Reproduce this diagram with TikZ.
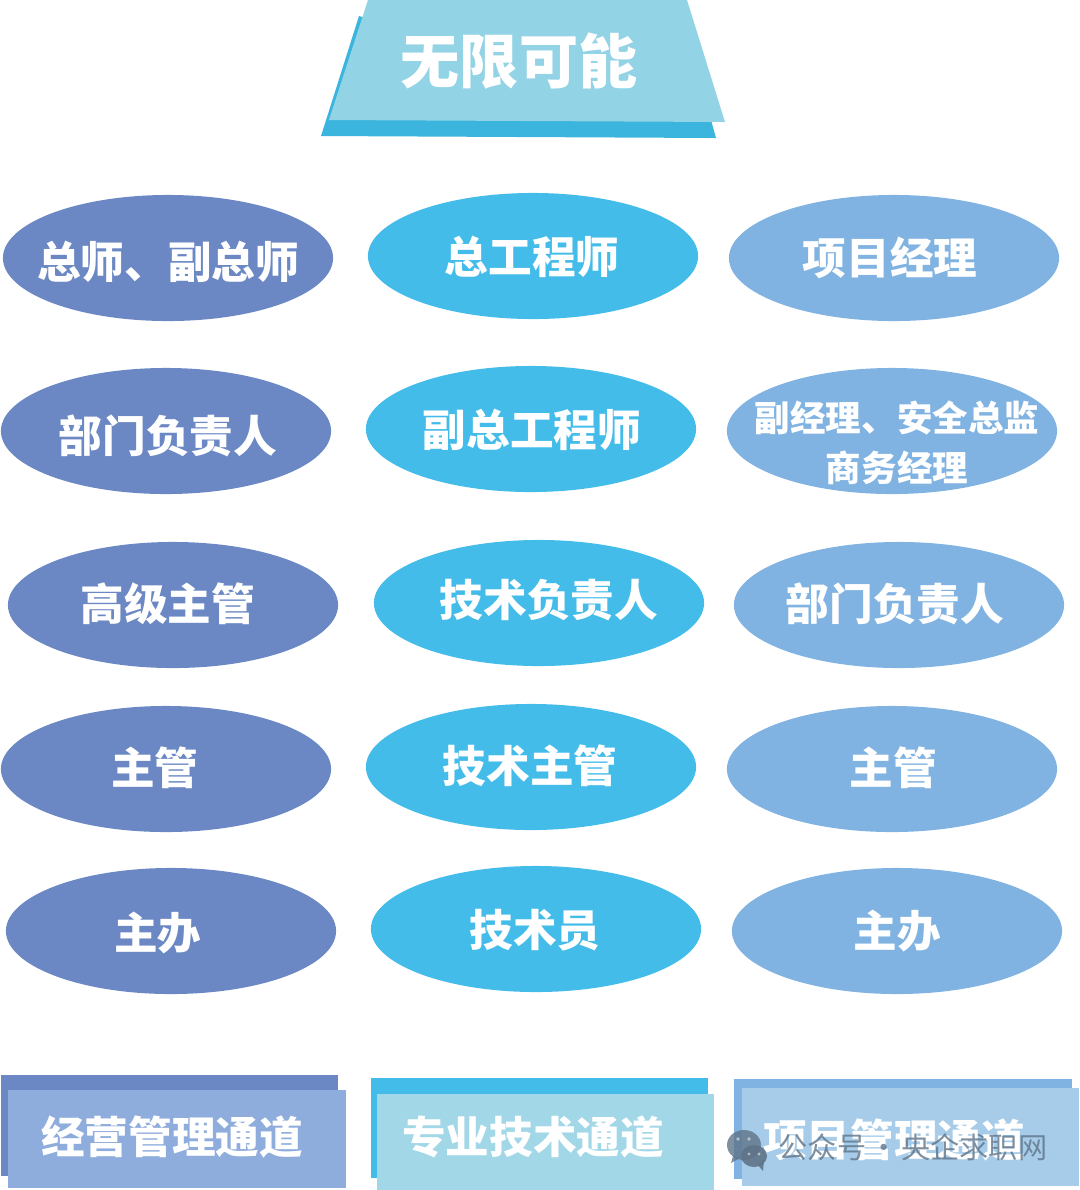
\documentclass[tikz,border=0pt]{standalone}
\usepackage{fontspec}
\usepackage{xcolor}
\usepackage{tikz}
\usetikzlibrary{positioning,shapes.geometric}
\newfontfamily\cjk{Noto Sans CJK SC}[BoldFont={Noto Sans CJK SC Black}]

\definecolor{glblue}{HTML}{6B88C4}
\definecolor{zycyan}{HTML}{43BCEA}
\definecolor{xmsky}{HTML}{80B3E2}
\definecolor{glfront}{HTML}{8FADDC}
\definecolor{zyfront}{HTML}{A2D7E8}
\definecolor{xmfront}{HTML}{A6CCEA}
\definecolor{titlefront}{HTML}{92D3E5}
\definecolor{titleback}{HTML}{3BB5DD}
\definecolor{markgray}{HTML}{5F7488}

\tikzset{
    oval/.style={ellipse, minimum width=3.3cm, minimum height=1.26cm, inner sep=0pt},
    word/.style={text=white, inner sep=0pt, font=\cjk\bfseries\fontsize{12.4}{14.2}\selectfont},
    smallword/.style={word, align=center, font=\cjk\bfseries\fontsize{10.1}{14.2}\selectfont},
    titleword/.style={word, font=\cjk\bfseries\fontsize{16.8}{19}\selectfont},
    markword/.style={text=markgray, text opacity=0.8, inner sep=0pt, font=\cjk\fontsize{8.3}{10}\selectfont},
}

\begin{document}
\begin{tikzpicture}[x=0.01cm, y=-0.01cm]
    \useasboundingbox (0,0) rectangle (1080,1190);

    % Title banner
    \fill[titleback] (359,16) -- (321,136) -- (716,138) -- (711,120) -- cycle;
    \fill[titlefront] (368,0) -- (687,0) -- (725,122) -- (329,120) -- cycle;
    \node[titleword] (title) at (519,61) {无限可能};

    % Management column
    \node[oval, fill=glblue] (gl1) at (168,258) {};
    \node[oval, fill=glblue] (gl2) at (166,431) {};
    \node[oval, fill=glblue] (gl3) at (173,605) {};
    \node[oval, fill=glblue] (gl4) at (166,769) {};
    \node[oval, fill=glblue] (gl5) at (171,931) {};
    \node[word] (gl1text) at (168,262) {总师、副总师};
    \node[word] (gl2text) at (168,436) {部门负责人};
    \node[word] (gl3text) at (168,604) {高级主管};
    \node[word] (gl4text) at (155,768) {主管};
    \node[word] (gl5text) at (158,933) {主办};

    % Technical column
    \node[oval, fill=zycyan] (zy1) at (533,256) {};
    \node[oval, fill=zycyan] (zy2) at (531,429) {};
    \node[oval, fill=zycyan] (zy3) at (539,603) {};
    \node[oval, fill=zycyan] (zy4) at (531,767) {};
    \node[oval, fill=zycyan] (zy5) at (536,929) {};
    \node[word] (zy1text) at (532,257) {总工程师};
    \node[word] (zy2text) at (532,430) {副总工程师};
    \node[word] (zy3text) at (549,600) {技术负责人};
    \node[word] (zy4text) at (530,766) {技术主管};
    \node[word] (zy5text) at (535,930) {技术员};

    % Project column
    \node[oval, fill=xmsky] (xm1) at (894,258) {};
    \node[oval, fill=xmsky] (xm2) at (892,431) {};
    \node[oval, fill=xmsky] (xm3) at (899,605) {};
    \node[oval, fill=xmsky] (xm4) at (892,769) {};
    \node[oval, fill=xmsky] (xm5) at (897,931) {};
    \node[word] (xm1text) at (890,258) {项目经理};
    \node[smallword] (xm2text) at (897,443) {副经理、安全总监\\商务经理};
    \node[word] (xm3text) at (895,604) {部门负责人};
    \node[word] (xm4text) at (893,768) {主管};
    \node[word] (xm5text) at (897,931) {主办};

    % Channel labels
    \fill[glblue] (1,1075) rectangle (338,1176);
    \fill[glfront] (8,1090) rectangle (346,1188);
    \node[word] (glname) at (172,1137) {经营管理通道};
    \fill[zycyan] (371,1078) rectangle (708,1178);
    \fill[zyfront] (377,1094) rectangle (714,1190);
    \node[word] (zyname) at (533,1137) {专业技术通道};
    \fill[xmsky] (734,1079) rectangle (1072,1179);
    \fill[xmfront] (742,1088) rectangle (1079,1186);
    \node[word] (xmname) at (894,1140) {项目管理通道};

    % Watermark
    \fill[markgray, opacity=0.8] (744,1145) ellipse (17 and 15);
    \fill[markgray, opacity=0.8] (733,1156) -- (731,1163) -- (740,1158) -- cycle;
    \fill[white, opacity=0.5] (738,1139) circle (1.8);
    \fill[white, opacity=0.5] (749,1139) circle (1.8);
    \fill[markgray, opacity=0.9] (754,1156) ellipse (13 and 11);
    \fill[markgray, opacity=0.9] (758,1165) -- (763,1171) -- (764,1160) -- cycle;
    \fill[white, opacity=0.5] (749,1154) circle (1.6);
    \fill[white, opacity=0.5] (759,1154) circle (1.6);
    \node[markword, right] (mark) at (778,1147) {公众号\kern0.85pt·\kern0.85pt 央企求职网};
\end{tikzpicture}
\end{document}
